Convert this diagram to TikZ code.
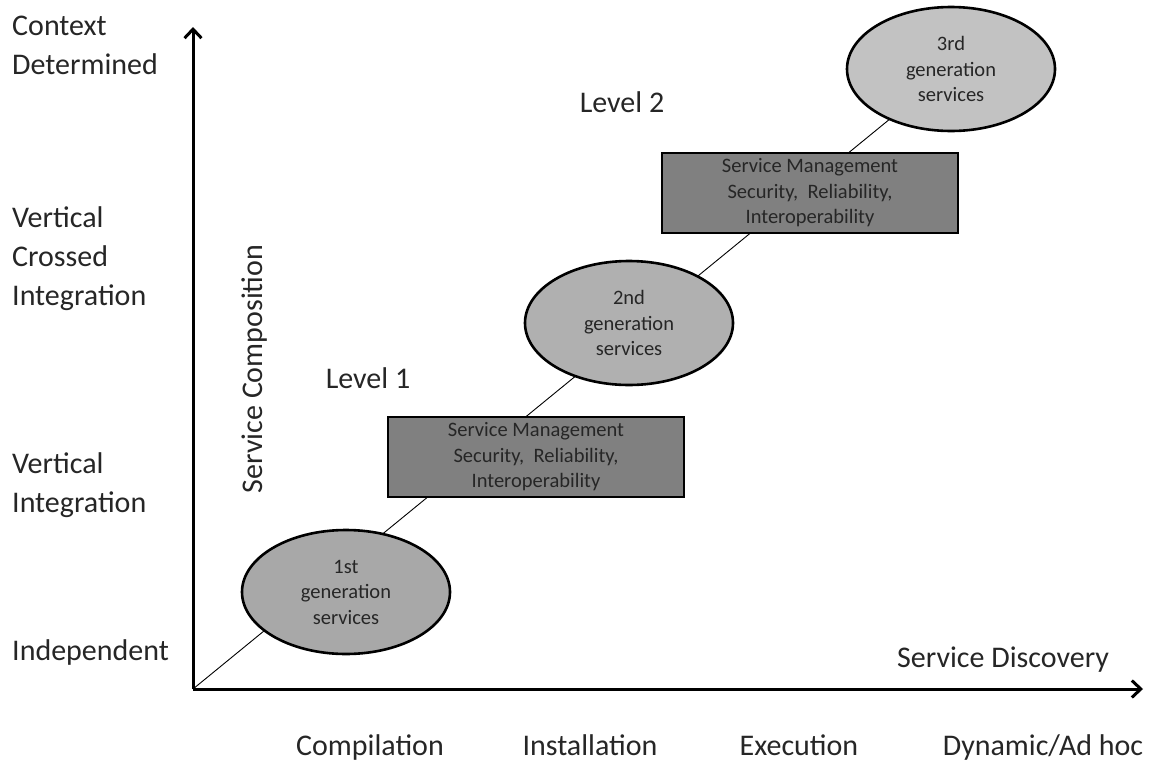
\documentclass[tikz,border=0pt]{standalone}
\usepackage{fontspec}
\setmainfont{Carlito}
\usetikzlibrary{arrows.meta,shapes.geometric,backgrounds}
\definecolor{genA}{HTML}{A8A8A8}
\definecolor{genB}{HTML}{B0B0B0}
\definecolor{genC}{HTML}{C2C2C2}
\definecolor{mgmt}{HTML}{808080}
\definecolor{ink}{HTML}{262626}
\begin{document}
\begin{tikzpicture}[x=1pt,y=-1pt,
  axis/.style={line width=3pt,-{Straight Barb[length=9pt,width=17pt]}},
  lbl/.style={font=\fontsize{30}{39}\selectfont,text=ink,inner sep=0pt},
  gen/.style={ellipse,draw,line width=2.6pt,minimum width=208pt,minimum height=124pt,
    inner sep=0pt,align=center,text=ink,font=\fontsize{20.5}{25.5}\selectfont},
  mgmtbox/.style={rectangle,draw,line width=2.6pt,fill=mgmt,minimum width=296pt,
    minimum height=80pt,inner sep=0pt,align=center,text=ink,font=\fontsize{20.5}{25.5}\selectfont},
  diag/.style={line width=0.9pt}]
\useasboundingbox (0,0) rectangle (1159,763);

% axes
\coordinate (O) at (193,689);
\coordinate (ytip) at (193,27);
\coordinate (xtip) at (1143,689);
\draw[axis] (O) -- (ytip);
\draw[axis] (O) -- (xtip);

% generations and management layers
\node[gen,fill=genA] (g1) at (346,592) {1st\\generation\\services};
\node[mgmtbox] (m1) at (536,457) {Service Management\\Security,\ \ Reliability,\\Interoperability};
\node[gen,fill=genB] (g2) at (629,323) {2nd\\generation\\services};
\node[mgmtbox] (m2) at (810,193) {Service Management\\Security,\ \ Reliability,\\Interoperability};
\node[gen,fill=genC] (g3) at (951,69) {3rd\\generation\\services};

% evolution line behind the shapes
\begin{scope}[on background layer]
  \draw[diag] (O) -- (g3.center);
\end{scope}

% level labels
\node[lbl] (lv1) at (368,378) {Level 1};
\node[lbl] (lv2) at (622,102) {Level 2};

% vertical axis categories
\node[lbl,anchor=west,align=left] (cd) at (12,45) {Context\\Determined};
\node[lbl,anchor=west,align=left] (vci) at (12,259) {Vertical\\Crossed\\Integration};
\node[lbl,anchor=west,align=left] (vi) at (12,485) {Vertical\\Integration};
\node[lbl,anchor=west] (ind) at (12,652) {Independent};

% axis titles
\node[lbl,rotate=90] (sc) at (255,369) {Service Composition};
\node[lbl] (sd) at (1003,660) {Service Discovery};

% horizontal axis categories, on a common baseline
\node[lbl,anchor=base] (c1) at (370,755) {Compilation};
\node[lbl,anchor=base] (c2) at (590,755) {Installation};
\node[lbl,anchor=base] (c3) at (799,755) {Execution};
\node[lbl,anchor=base] (c4) at (1043,755) {Dynamic/Ad hoc};
\end{tikzpicture}
\end{document}
